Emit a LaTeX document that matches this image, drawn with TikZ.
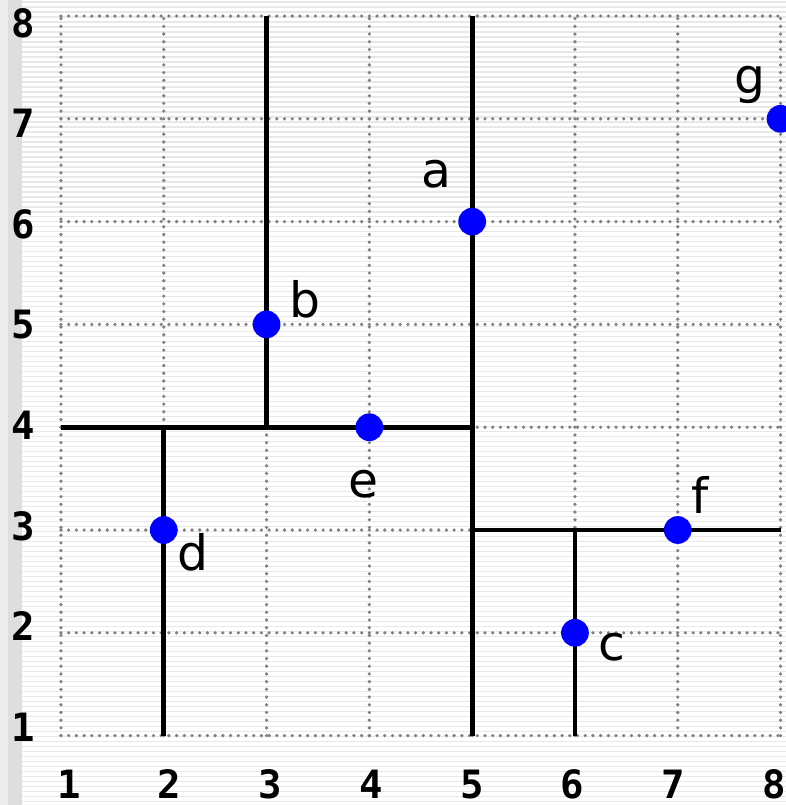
\documentclass[tikz,border=0pt]{standalone}
\usepackage{fontspec}
\setmainfont{DejaVu Sans}
\newfontfamily\axisfont{DejaVu Sans Mono}
\begin{document}
\begin{tikzpicture}[x=1cm,y=1cm,
  rule/.style={draw=black!9,line width=0.35pt},
  gridline/.style={draw=black!50,line width=1pt,line cap=round,dash pattern=on 0pt off 0.075cm},
  cut/.style={draw=black,line width=1.3pt},
  pt/.style={circle,fill=blue,inner sep=0pt,minimum size=0.27cm},
  lab/.style={font=\fontsize{13.5}{16}\selectfont,inner sep=0pt},
  axl/.style={font=\axisfont\bfseries\fontsize{10.8}{13}\selectfont,inner sep=0pt}]
\useasboundingbox (0.407,0.325) rectangle (8.053,8.156);
\fill[white] (0.407,0.325) rectangle (8.053,8.156);
% ruled background
\foreach \k in {0,...,161}{
  \draw[rule] (0.621,{8.156-0.0486*\k-0.02}) -- (8.053,{8.156-0.0486*\k-0.02});
}
\fill[black!7] (0.407,0.325) rectangle (0.485,8.156);
\fill[black!13] (0.485,0.325) rectangle (0.621,8.156);
% dotted grid
\foreach \i in {1,...,8}{
  \draw[gridline] (\i,1) -- (\i,8);
  \draw[gridline] (1,\i) -- (8,\i);
}
% axis labels
\foreach \i in {1,...,8}{
  \node[axl] (xl\i) at ({1.078+(\i-1)*0.9797},0.525) {\i};
  \node[axl] (yl\i) at (0.63,{1.084+(\i-1)*0.978}) {\i};
}
% partition lines
\coordinate (v5b) at (5,1); \coordinate (v5t) at (5,8);
\coordinate (h4l) at (1,4); \coordinate (h4r) at (5,4);
\coordinate (v3b) at (3,4); \coordinate (v3t) at (3,8);
\coordinate (v2b) at (2,1); \coordinate (v2t) at (2,4);
\coordinate (h3l) at (5,3); \coordinate (h3r) at (8,3);
\coordinate (v6b) at (6,1); \coordinate (v6t) at (6,3);
\draw[cut] (v5b) -- (v5t);
\draw[cut] (h4l) -- (h4r);
\draw[cut] (v3b) -- (v3t);
\draw[cut] (v2b) -- (v2t);
\draw[cut] (h3l) -- (h3r);
\draw[cut] (v6b) -- (v6t);
% points
\node[pt] (a) at (5,6) {};
\node[pt] (b) at (3,5) {};
\node[pt] (c) at (6,2) {};
\node[pt] (d) at (2,3) {};
\node[pt] (e) at (4,4) {};
\node[pt] (f) at (7,3) {};
\node[pt] (g) at (8,7) {};
% labels
\node[lab] (la) at (4.65,6.46) {a};
\node[lab] (lb) at (3.37,5.24) {b};
\node[lab] (lc) at (6.36,1.86) {c};
\node[lab] (ld) at (2.28,2.78) {d};
\node[lab] (le) at (3.94,3.45) {e};
\node[lab] (lf) at (7.22,3.34) {f};
\node[lab] (lg) at (7.70,7.33) {g};
\end{tikzpicture}
\end{document}
